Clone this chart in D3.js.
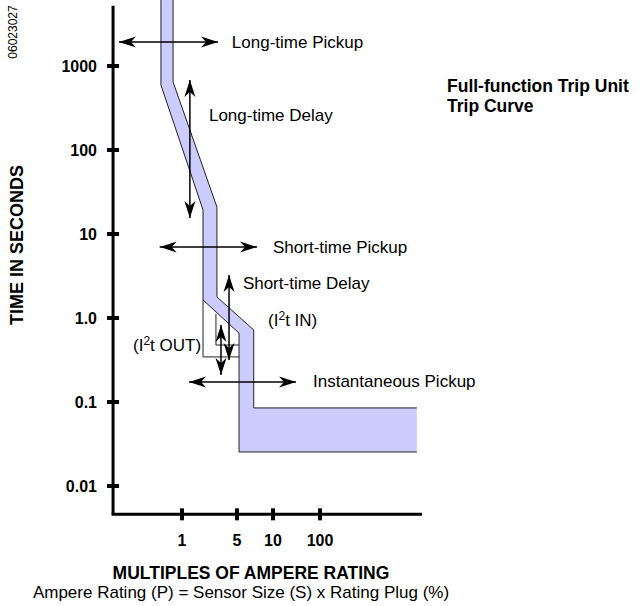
<!DOCTYPE html>
<html>
<head>
<meta charset="utf-8">
<script src="https://cdn.jsdelivr.net/npm/d3@7"></script>
<style>
  body { margin: 0; background: #fff; }
  svg { font-family: "Liberation Sans", Arial, sans-serif; }
</style>
</head>
<body>
<div id="chart"></div>
<script>
// tick values on both axes
let yTicks = [1000, 100, 10, 1, 0.1, 0.01];
let yTickLabels = ["1000", "100", "10", "1.0", "0.1", "0.01"];
let xTicks = [1, 5, 10, 100];
let xTickLabels = ["1", "5", "10", "100"];

// trip band outline, [multiple, seconds]
let bandLeft = [[0.54, 6100], [0.54, 594], [1.85, 19.3], [1.85, 1.64], [5.2, 0.66], [5.2, 0.0254], [11500, 0.0254]];
let bandRight = [[11500, 0.085], [6.9, 0.085], [6.9, 0.72], [2.78, 1.78], [2.78, 20.9], [0.77, 645], [0.77, 6100]];

// I2t brackets
let i2tOut = [[1.85, 1.64], [1.85, 0.344], [5.2, 0.344]];
let i2tIn = [[2.7, 1.12], [2.7, 0.477], [5.2, 0.477]];

// double headed arrows: from / to
let arrows = [
  { from: [0.158, 1930], to: [2.87, 1930] },
  { from: [1.26, 681], to: [1.26, 15.5] },
  { from: [0.52, 7.0], to: [7.35, 7.0] },
  { from: [3.96, 3.25], to: [3.96, 0.316] },
  { from: [3.13, 0.826], to: [3.13, 0.21] },
  { from: [1.23, 0.173], to: [30.9, 0.173] }
];

let labels = [
  { text: "Long-time Pickup", at: [4.3, 1930] },
  { text: "Long-time Delay", at: [2.2, 261] },
  { text: "Short-time Pickup", at: [10, 7.0] },
  { text: "Short-time Delay", at: [5.6, 2.6] },
  { text: "Instantaneous Pickup", at: [71, 0.18] }
];

let width = 642, height = 606;

let svg = d3.select("#chart").append("svg")
  .attr("width", width)
  .attr("height", height);

let x = d3.scaleLog()
  .domain(xTicks)
  .range([182, 237, 273, 320]);

let y = d3.scaleLog()
  .domain([1000, 0.01])
  .range([66, 486]);

let xMin = 0.133, xMax = 14800;
let yMin = 0.0046, yMax = 5200;

let defs = svg.append("defs");
defs.append("marker")
  .attr("id", "head")
  .attr("viewBox", "-17 -6 17 12")
  .attr("refX", 0).attr("refY", 0)
  .attr("markerWidth", 17).attr("markerHeight", 12)
  .attr("markerUnits", "userSpaceOnUse")
  .attr("orient", "auto-start-reverse")
  .append("path")
  .attr("d", "M0,0 L-17,-5.5 L-12,0 L-17,5.5 Z")
  .attr("fill", "#000");

let line = d3.line().x(d => x(d[0])).y(d => y(d[1]));

// band
svg.append("path")
  .attr("d", line(bandLeft.concat(bandRight)) + "Z")
  .attr("fill", "#ccccff");
[bandLeft, bandRight, i2tOut, i2tIn].forEach(p => {
  svg.append("path")
    .attr("d", line(p))
    .attr("fill", "none")
    .attr("stroke", "#222")
    .attr("stroke-width", 1);
});

// axes
let axisG = svg.append("g");
axisG.append("line")
  .attr("x1", x(xMin)).attr("x2", x(xMin))
  .attr("y1", y(yMax)).attr("y2", y(yMin))
  .attr("stroke", "#000").attr("stroke-width", 3);
axisG.append("line")
  .attr("x1", x(xMin) - 1.5).attr("x2", x(xMax))
  .attr("y1", y(yMin)).attr("y2", y(yMin))
  .attr("stroke", "#000").attr("stroke-width", 3);

axisG.selectAll(".ytick")
  .data(yTicks)
  .join("rect")
  .attr("x", x(xMin) - 6)
  .attr("y", d => y(d) - 2)
  .attr("width", 12).attr("height", 4)
  .attr("fill", "#000");

axisG.selectAll(".ylab")
  .data(yTicks)
  .join("text")
  .attr("x", 97)
  .attr("y", d => y(d))
  .attr("dy", "0.35em")
  .attr("text-anchor", "end")
  .attr("font-size", 16)
  .attr("font-weight", "bold")
  .text((d, i) => yTickLabels[i]);

axisG.selectAll(".xtick")
  .data(xTicks)
  .join("rect")
  .attr("x", d => x(d) - 2)
  .attr("y", y(yMin) - 6)
  .attr("width", 4).attr("height", 12)
  .attr("fill", "#000");

axisG.selectAll(".xlab")
  .data(xTicks)
  .join("text")
  .attr("x", d => x(d))
  .attr("y", 546)
  .attr("text-anchor", "middle")
  .attr("font-size", 16)
  .attr("font-weight", "bold")
  .text((d, i) => xTickLabels[i]);

// arrows
svg.selectAll(".arrow")
  .data(arrows)
  .join("line")
  .attr("x1", d => x(d.from[0])).attr("y1", d => y(d.from[1]))
  .attr("x2", d => x(d.to[0])).attr("y2", d => y(d.to[1]))
  .attr("stroke", "#000")
  .attr("stroke-width", 1.5)
  .attr("marker-start", "url(#head)")
  .attr("marker-end", "url(#head)");

svg.selectAll(".lab")
  .data(labels)
  .join("text")
  .attr("x", d => x(d.at[0]))
  .attr("y", d => y(d.at[1]))
  .attr("dy", "0.35em")
  .attr("font-size", 17)
  .text(d => d.text);

// I2t labels
function i2t(xv, yv, tail, anchor) {
  let t = svg.append("text")
    .attr("x", x(xv)).attr("y", y(yv)).attr("dy", "0.35em")
    .attr("text-anchor", anchor)
    .attr("font-size", 17);
  t.append("tspan").text("(I");
  t.append("tspan").attr("font-size", 12).attr("dy", -6).text("2");
  t.append("tspan").attr("dy", 6).text(tail);
}
i2t(9.1, 0.95, "t IN)", "start");
i2t(1.75, 0.48, "t OUT)", "end");

// titles
svg.append("text")
  .attr("x", 447).attr("y", 92)
  .attr("font-size", 17.5).attr("font-weight", "bold")
  .text("Full-function Trip Unit");
svg.append("text")
  .attr("x", 447).attr("y", 112)
  .attr("font-size", 17.5).attr("font-weight", "bold")
  .text("Trip Curve");

svg.append("text")
  .attr("transform", "translate(23,245) rotate(-90)")
  .attr("text-anchor", "middle")
  .attr("font-size", 18).attr("font-weight", "bold")
  .text("TIME IN SECONDS");

svg.append("text")
  .attr("transform", "translate(17,32) rotate(-90)")
  .attr("text-anchor", "middle")
  .attr("font-size", 12)
  .text("06023027");

svg.append("text")
  .attr("x", 251).attr("y", 579)
  .attr("text-anchor", "middle")
  .attr("font-size", 17.5).attr("font-weight", "bold")
  .text("MULTIPLES OF AMPERE RATING");
svg.append("text")
  .attr("x", 241).attr("y", 598)
  .attr("text-anchor", "middle")
  .attr("font-size", 17)
  .text("Ampere Rating (P) = Sensor Size (S) x Rating Plug (%)");
</script>
</body>
</html>
